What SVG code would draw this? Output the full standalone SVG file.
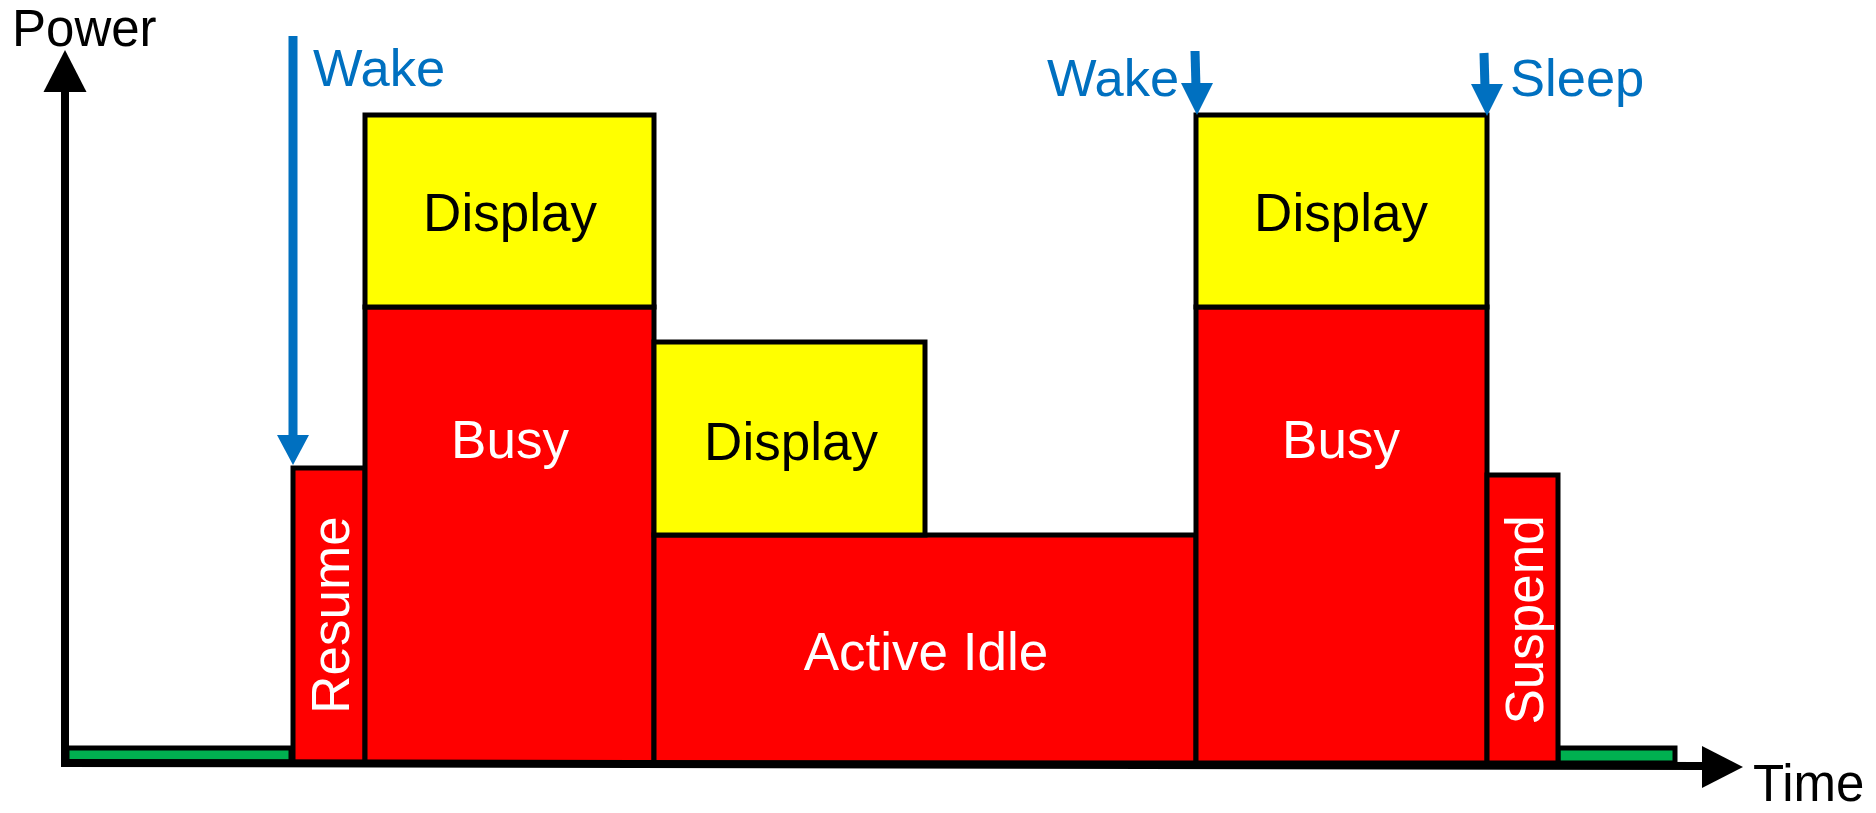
<svg xmlns="http://www.w3.org/2000/svg" width="1876" height="813" viewBox="0 0 1876 813">
<style>
.box{stroke:#000;stroke-width:5;stroke-linejoin:miter}
.red{fill:#FF0000}
.yel{fill:#FFFF00}
.grn{fill:#00B050}
.lbl{font-family:"Liberation Sans",Arial,sans-serif;font-size:53px;text-anchor:middle}
.w{fill:#fff}
.k{fill:#000}
.blue{font-family:"Liberation Sans",Arial,sans-serif;font-size:52.5px;fill:#0070C0}
.axl{font-family:"Liberation Sans",Arial,sans-serif;font-size:51px;fill:#000}
.bl{stroke:#0070C0;stroke-width:9;fill:none}
</style>
<rect width="1876" height="813" fill="#fff"/>
<g id="idle-left"><rect class="box grn" x="67" y="748" width="224" height="14"/></g>
<g id="idle-right"><rect class="box grn" x="1558" y="748" width="117" height="15"/></g>
<g id="resume"><rect class="box red" x="293" y="468" width="72" height="295"/>
<text class="lbl w" transform="translate(349,615) rotate(-90)">Resume</text></g>
<g id="busy1"><rect class="box red" x="365" y="307" width="289" height="456"/>
<text class="lbl w" x="510" y="458">Busy</text></g>
<g id="display1"><rect class="box yel" x="365" y="115" width="289" height="192"/>
<text class="lbl k" x="510" y="231">Display</text></g>
<g id="active-idle"><rect class="box red" x="654" y="535" width="542" height="228"/>
<text class="lbl w" x="926" y="670">Active Idle</text></g>
<g id="display2"><rect class="box yel" x="654" y="342" width="271" height="193"/>
<text class="lbl k" x="791" y="460">Display</text></g>
<g id="busy2"><rect class="box red" x="1196" y="307" width="291" height="456"/>
<text class="lbl w" x="1341" y="458">Busy</text></g>
<g id="display3"><rect class="box yel" x="1196" y="115" width="291" height="192"/>
<text class="lbl k" x="1341" y="231">Display</text></g>
<g id="suspend"><rect class="box red" x="1487" y="475" width="71" height="288"/>
<text class="lbl w" transform="translate(1543,620) rotate(-90)">Suspend</text></g>
<g id="connectors">
<line x1="65" y1="767" x2="65" y2="88" stroke="#000" stroke-width="8"/>
<polygon points="65,50 43.5,92 86.5,92" fill="#000"/>
<line x1="61" y1="763" x2="1706" y2="766" stroke="#000" stroke-width="8"/>
<polygon points="1743,767 1702,746 1702,788" fill="#000"/>
<line class="bl" x1="293" y1="36" x2="293" y2="440"/>
<polygon points="293,465 277,435 309,435" fill="#0070C0"/>
<line class="bl" x1="1195" y1="51" x2="1196" y2="88"/>
<polygon points="1197,115 1181,83 1213,83" fill="#0070C0"/>
<line class="bl" x1="1484" y1="53" x2="1485" y2="88"/>
<polygon points="1487,116 1471,84 1503,84" fill="#0070C0"/>
</g>
<g id="labels">
<text class="axl" x="12" y="46">Power</text>
<text class="axl" x="1753" y="801">Time</text>
<text class="blue" x="313" y="86">Wake</text>
<text class="blue" x="1047" y="96">Wake</text>
<text class="blue" x="1510" y="96">Sleep</text>
</g>
</svg>
